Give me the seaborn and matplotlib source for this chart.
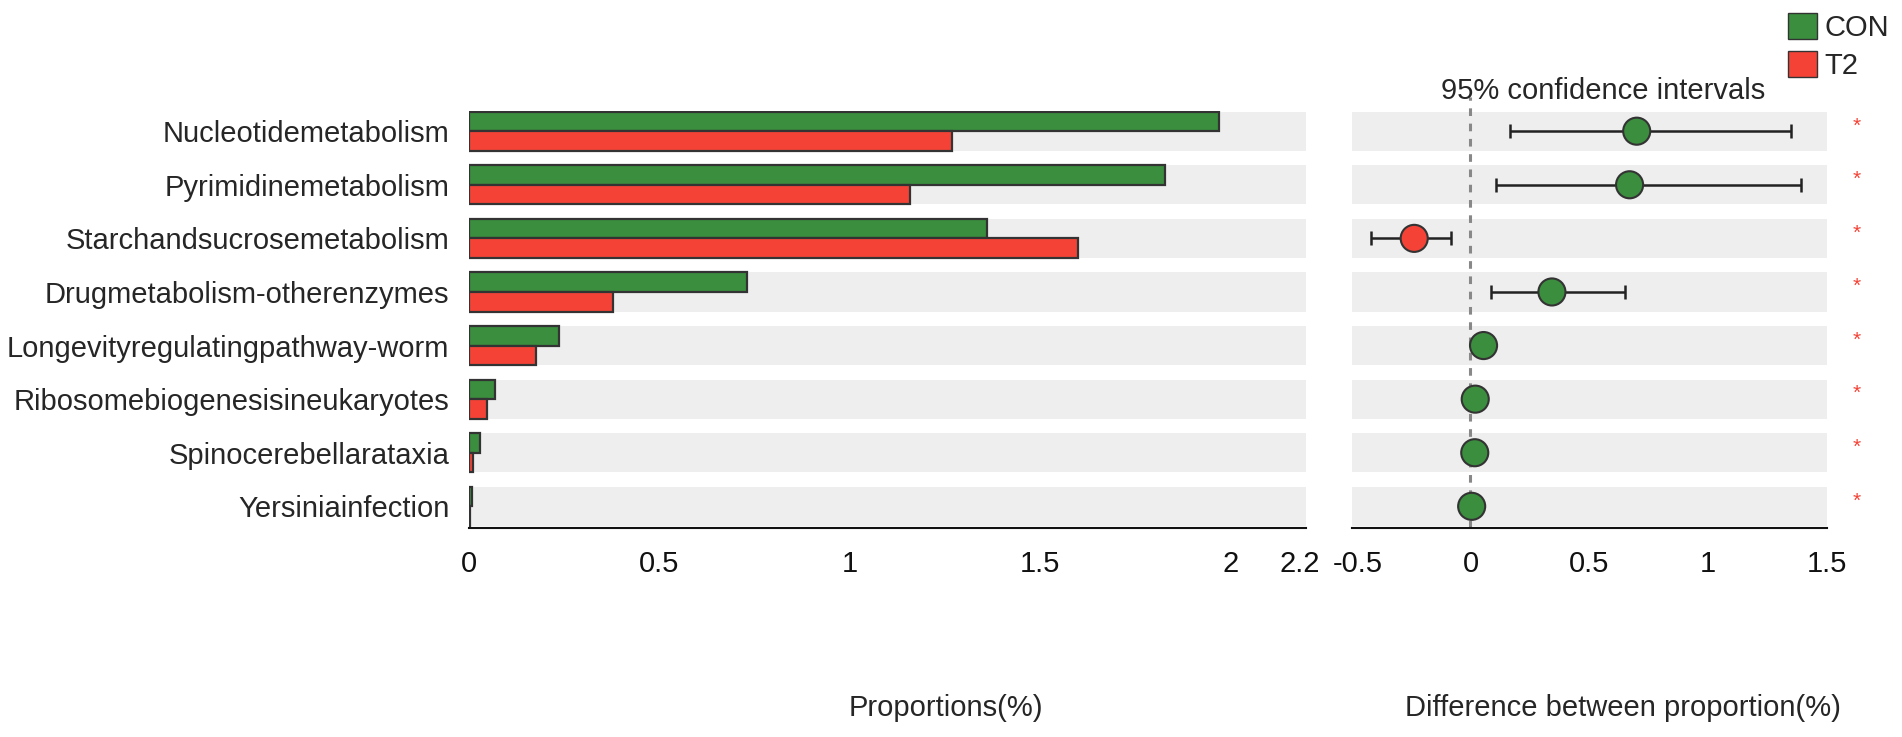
import numpy as np
import pandas as pd
import matplotlib
matplotlib.use("Agg")
import matplotlib.pyplot as plt
from matplotlib.patches import Patch
from matplotlib.transforms import ScaledTranslation
import seaborn as sns

sns.set_style("white")
plt.rcParams['font.family'] = ['Liberation Sans', 'DejaVu Sans']

# data
pathways = ["Nucleotidemetabolism", "Pyrimidinemetabolism", "Starchandsucrosemetabolism",
            "Drugmetabolism-otherenzymes", "Longevityregulatingpathway-worm",
            "Ribosomebiogenesisineukaryotes", "Spinocerebellarataxia", "Yersiniainfection"]
con = [1.97, 1.83, 1.36, 0.73, 0.236, 0.069, 0.030, 0.008]
t2 = [1.27, 1.16, 1.60, 0.38, 0.176, 0.047, 0.012, 0.003]
diff = [0.70, 0.67, -0.237, 0.343, 0.055, 0.020, 0.018, 0.005]
ci_low = [0.166, 0.106, -0.42, 0.086, 0.035, 0.010, 0.008, -0.002]
ci_high = [1.35, 1.39, -0.08, 0.65, 0.075, 0.030, 0.028, 0.012]
left_ticks = [0, 0.5, 1, 1.5, 2, 2.2]
left_ticklabels = ["0", "0.5", "1", "1.5", "2", "2.2"]
right_ticks = [-0.5, 0, 0.5, 1, 1.5]
right_ticklabels = ["-0.5", "0", "0.5", "1", "1.5"]

green = "#3a8e3e"
red = "#f44336"
band = "#eeeeee"
edge = "#333333"
FS = 21

df = pd.DataFrame({
    "pathway": pathways * 2,
    "value": con + t2,
    "group": ["CON"] * len(pathways) + ["T2"] * len(pathways),
})

fig = plt.figure(figsize=(19.02, 7.37), dpi=100)
ax1 = fig.add_axes([0.2465, 0.2839, 0.4403, 0.5650])
ax2 = fig.add_axes([0.7107, 0.2839, 0.2497, 0.5650])

rows = np.arange(len(pathways))
bh = 0.365

# grey bands behind each row
for ax in (ax1, ax2):
    for r in rows:
        ax.axhspan(r - bh, r + bh, color=band, zorder=0, lw=0)

sns.barplot(data=df, y="pathway", x="value", hue="group", orient="h",
            palette={"CON": green, "T2": red}, width=2 * bh, saturation=1,
            edgecolor=edge, linewidth=1.6, ax=ax1, legend=False, zorder=2)

ax1.set_xlim(0, 2.2)
ax1.set_ylim(7.4, -0.37)
ax1.set_xticks(left_ticks)
ax1.set_xticklabels(left_ticklabels)
ax1.set_ylabel("")
ax1.set_xlabel("Proportions(%)", fontsize=FS)
ax1.xaxis.set_label_coords(0.57, -0.40)

# right panel: difference with confidence intervals
diff_a = np.array(diff)
xerr = [diff_a - np.array(ci_low), np.array(ci_high) - diff_a]
ax2.errorbar(diff, rows, xerr=xerr, fmt="none", ecolor="#222222",
             elinewidth=1.8, capsize=5, capthick=1.8, zorder=3)
dot_cols = [green if d > 0 else red for d in diff]
sns.scatterplot(x=diff, y=rows, hue=dot_cols, palette={green: green, red: red},
                s=380, edgecolor=edge, linewidth=1.5, ax=ax2, legend=False, zorder=4)
ax2.axvline(0, ymin=0, ymax=1.035, color="#888888", ls=(0, (2.5, 2.5)), lw=2.2,
            zorder=1, clip_on=False)
ax2.set_xlim(-0.5, 1.5)
ax2.set_ylim(7.4, -0.37)
ax2.set_xticks(right_ticks)
ax2.set_xticklabels(right_ticklabels)
ax2.set_yticks([])
ax2.set_xlabel("Difference between proportion(%)", fontsize=FS)
ax2.xaxis.set_label_coords(0.57, -0.40)
ax2.text(0.53, 1.05, "95% confidence intervals", transform=ax2.transAxes,
         ha="center", va="center", fontsize=FS)

# significance stars
for r in rows:
    ax2.text(1.063, r - 0.1, "*", transform=ax2.get_yaxis_transform(),
             color=red, fontsize=15, ha="center", va="center")

for ax in (ax1, ax2):
    sns.despine(ax=ax, left=True, top=True, right=True)
    ax.spines["bottom"].set_linewidth(1.5)
    ax.spines["bottom"].set_color("#111111")
    ax.tick_params(axis="x", direction="in", length=11, width=1.3,
                   labelsize=FS, pad=16, colors="#111111")
    ax.tick_params(axis="y", length=0, labelsize=FS, pad=14)
    ax.grid(False)

# nudge the two labels that meet between the panels
ax1.get_xticklabels()[-1].set_transform(
    ax1.get_xticklabels()[-1].get_transform() + ScaledTranslation(-5 / 72, 0, fig.dpi_scale_trans))
ax2.get_xticklabels()[0].set_transform(
    ax2.get_xticklabels()[0].get_transform() + ScaledTranslation(4 / 72, 0, fig.dpi_scale_trans))

handles = [Patch(facecolor=green, edgecolor=edge, label="CON"),
           Patch(facecolor=red, edgecolor=edge, label="T2")]
fig.legend(handles=handles, loc="upper right", bbox_to_anchor=(1.0, 1.0),
           frameon=False, fontsize=FS, handlelength=1.0, handleheight=1.0,
           handletextpad=0.25, labelspacing=0.3, borderaxespad=0.05)

fig.savefig("out.png", dpi=100)
